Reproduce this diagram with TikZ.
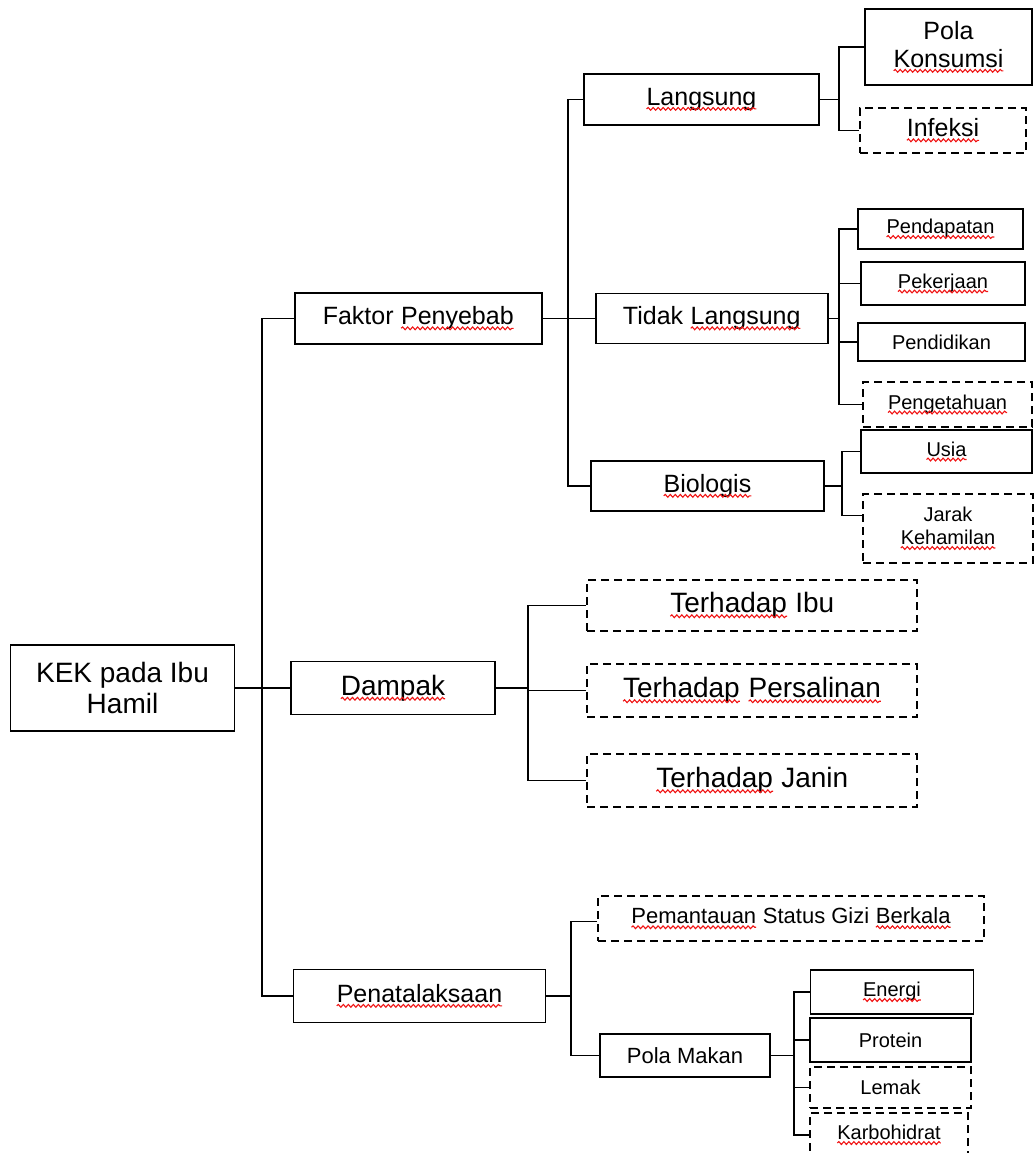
\documentclass[tikz,border=0pt]{standalone}
\usepackage{fontspec}
\setmainfont{Liberation Sans}
\usetikzlibrary{decorations.pathmorphing}
\definecolor{spell}{RGB}{240,20,20}
\tikzset{
    typo word/.style={inner sep=0pt, outer sep=0pt, draw=none, solid, minimum width=0pt, minimum height=0pt},
    typo wave/.style={draw=spell, solid, line width=1.1pt, decorate, decoration={snake, amplitude=1.4pt, segment length=5pt}}
}
\newcommand{\typo}[1]{\tikz[baseline=(w.base)]{\node[typo word] (w) {#1}; \draw[typo wave] ([yshift=-3.5pt]w.base west) -- ([yshift=-3.5pt]w.base east);}}

\begin{document}
\begin{tikzpicture}[x=1pt, y=-1pt,
    box/.style={draw, line width=1.9pt, inner sep=0pt, align=center},
    dbox/.style={box, dash pattern=on 8pt off 5pt},
    link/.style={line width=1.8pt},
    textL/.style={font=\fontsize{28}{31}\selectfont},
    textM/.style={font=\fontsize{25}{28}\selectfont},
    textS/.style={font=\fontsize{22}{25}\selectfont},
    textXS/.style={font=\fontsize{20}{23}\selectfont}]
    \useasboundingbox (0,0) rectangle (1035,1153);
    \clip (0,0) rectangle (1035,1153);

    % Root
    \node[box, textL, minimum width=224, minimum height=86] (root) at (122.5,688) {KEK pada Ibu\\Hamil};

    % Level one
    \node[box, textM, minimum width=247, minimum height=51] (faktor) at (418.5,318.5) {Faktor \typo{Penyebab}};
    \node[box, textL, minimum width=204, minimum height=53] (dampak) at (393,688) {\typo{Dampak}};
    \node[box, textM, minimum width=252, minimum height=53] (penata) at (419.5,996) {\typo{Penatalaksaan}};

    % Faktor Penyebab
    \node[box, textM, minimum width=235, minimum height=51] (langsung) at (701.5,99.5) {\typo{Langsung}};
    \node[box, textM, minimum width=232, minimum height=50] (tidak) at (712,318.5) {Tidak \typo{Langsung}};
    \node[box, textM, minimum width=233, minimum height=50] (bio) at (707.5,486) {\typo{Biologis}};

    \node[box, textM, minimum width=167, minimum height=76] (konsumsi) at (948.5,47) {Pola\\\typo{Konsumsi}};
    \node[dbox, textM, minimum width=166, minimum height=45] (infeksi) at (943,130.5) {\typo{Infeksi}};

    \node[box, textXS, minimum width=165, minimum height=40] (pendapatan) at (940.5,229) {\typo{Pendapatan}};
    \node[box, textXS, minimum width=164, minimum height=43] (pekerjaan) at (943,283.5) {\typo{Pekerjaan}};
    \node[box, textXS, minimum width=167, minimum height=38] (pendidikan) at (941.5,342) {Pendidikan};
    \node[dbox, textXS, minimum width=169, minimum height=45] (pengetahuan) at (947.5,404.5) {\typo{Pengetahuan}};

    \node[box, textXS, minimum width=171, minimum height=43] (usia) at (946.5,451.5) {\typo{Usia}};
    \node[dbox, textXS, minimum width=170, minimum height=69] (jarak) at (948,528.5) {Jarak\\\typo{Kehamilan}};

    % Dampak
    \node[dbox, textL, minimum width=330, minimum height=51] (ibu) at (752,605.5) {\typo{Terhadap} Ibu};
    \node[dbox, textL, minimum width=330, minimum height=53] (persalinan) at (752,690.5) {\typo{Terhadap} \typo{Persalinan}};
    \node[dbox, textL, minimum width=330, minimum height=53] (janin) at (752,780.5) {\typo{Terhadap} Janin};

    % Penatalaksaan
    \node[dbox, textS, minimum width=386, minimum height=45] (pemantauan) at (791,918.5) {\typo{Pemantauan} Status Gizi \typo{Berkala}};
    \node[box, textS, minimum width=170, minimum height=43] (polamakan) at (685,1055.5) {Pola Makan};

    \node[box, textXS, minimum width=163, minimum height=44] (energi) at (892,992) {\typo{Energi}};
    \node[box, textXS, minimum width=161, minimum height=44] (protein) at (890.5,1040) {Protein};
    \node[dbox, textXS, minimum width=161, minimum height=41] (lemak) at (890.5,1087.5) {Lemak};
    \node[dbox, textXS, minimum width=158, minimum height=44] (karbo) at (889,1135) {\typo{Karbohidrat}};

    % Branch points
    \coordinate (trunk) at (262,688);
    \coordinate (b1) at (568,318.5);
    \coordinate (b2) at (839,99.5);
    \coordinate (b3) at (839,318.5);
    \coordinate (b4) at (842,486);
    \coordinate (b5) at (528,688);
    \coordinate (b6) at (571,996);
    \coordinate (b7) at (794,1055.5);

    % Connectors
    \draw[link] (root) -- (dampak);
    \draw[link] (faktor.west) -| (trunk) |- (penata.west);

    \draw[link] (faktor) -- (tidak);
    \draw[link] (langsung.west) -| (b1) |- (bio.west);

    \draw[link] (langsung.east) -- (b2);
    \draw[link] (konsumsi.west) -| (b2) |- (infeksi.west);

    \draw[link] (tidak.east) -- (b3);
    \draw[link] (pendapatan.west) -| (b3) |- (pengetahuan.west);
    \foreach \n in {pekerjaan,pendidikan}
        \draw[link] (\n.west) -- (\n.west -| b3);

    \draw[link] (bio.east) -- (b4);
    \draw[link] (usia.west) -| (b4) |- ([yshift=13pt]jarak.west);

    \draw[link] (dampak.east) -- (b5);
    \draw[link] (ibu.west) -| (b5) |- (janin.west);
    \draw[link] (persalinan.west) -- (persalinan.west -| b5);

    \draw[link] (penata.east) -- (b6);
    \draw[link] ([yshift=-3pt]pemantauan.west) -| (b6) |- (polamakan.west);

    \draw[link] (polamakan.east) -- (b7);
    \draw[link] (energi.west) -| (b7) |- (karbo.west);
    \foreach \n in {protein,lemak}
        \draw[link] (\n.west) -- (\n.west -| b7);
\end{tikzpicture}
\end{document}
